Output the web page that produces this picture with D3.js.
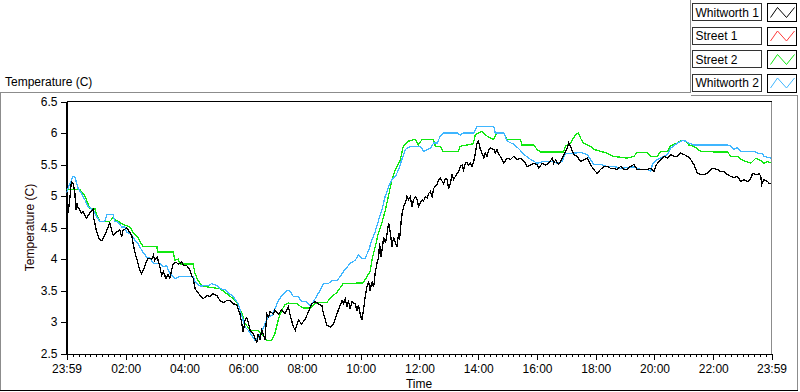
<!DOCTYPE html>
<html>
<head>
<meta charset="utf-8">
<script src="https://cdn.jsdelivr.net/npm/d3@7"></script>
<style>
  html,body{margin:0;padding:0;background:#fff;}
  svg{display:block;font-family:"Liberation Sans",Arial,sans-serif;}
</style>
</head>
<body>
<svg id="chart" width="800" height="392"></svg>
<script>
/* ===== Temperature log — 24 h, four sensors =====
 * time = hours after 00:00 (23:59 of the day before = -1/60)
 */

const T_START = -1/60;          // 23:59
const T_END   = 23 + 59/60;     // 23:59
const TICK_HOURS  = [2,4,6,8,10,12,14,16,18,20,22];
const TICK_LABELS = ["02:00","04:00","06:00","08:00","10:00","12:00","14:00","16:00","18:00","20:00","22:00"];
const Y_TICKS = [2.5,3,3.5,4,4.5,5,5.5,6,6.5];

const SERIES_NAMES  = ["Whitworth 1","Street 1","Street 2","Whitworth 2"];
const SERIES_COLORS = ["#000000","#ff3a3a","#10e810","#3fb6ff"];

// [hour, °C]
const whitworth1 = [
  [-0.017,4.78],[0.01,4.9],[0.04,4.73],[0.1,4.97],[0.15,5.23],[0.21,5.2],[0.27,5.04],[0.3,4.78],[0.34,4.88],[0.38,4.81],
  [0.44,4.78],[0.49,4.73],[0.55,4.75],[0.61,4.7],[0.66,4.65],[0.78,4.73],[0.89,4.79],[0.91,4.65],[0.95,4.57],[1.01,4.43],
  [1.09,4.33],[1.18,4.29],[1.29,4.38],[1.4,4.51],[1.46,4.57],[1.52,4.46],[1.57,4.38],[1.69,4.43],[1.8,4.46],[1.86,4.35],
  [1.91,4.46],[2.03,4.49],[2.08,4.46],[2.2,4.38],[2.25,4.25],[2.31,4.11],[2.39,3.98],[2.48,3.82],[2.54,3.77],[2.62,3.85],
  [2.69,3.95],[2.76,4.01],[2.88,4.0],[2.94,4.06],[2.99,3.98],[3.07,4.03],[3.16,3.88],[3.22,3.74],[3.28,3.8],[3.37,3.69],
  [3.44,3.75],[3.5,3.69],[3.56,3.82],[3.62,3.93],[3.71,3.95],[3.79,3.92],[3.9,3.95],[3.98,3.9],[4.07,3.9],[4.19,3.82],
  [4.24,3.74],[4.3,3.69],[4.36,3.53],[4.53,3.42],[4.64,3.37],[4.76,3.42],[4.87,3.4],[4.98,3.45],[5.1,3.42],[5.21,3.34],
  [5.32,3.31],[5.44,3.34],[5.55,3.34],[5.66,3.29],[5.78,3.27],[5.89,3.13],[5.95,2.97],[6.0,2.84],[6.06,3.03],[6.12,3.07],
  [6.17,3.0],[6.23,2.87],[6.35,2.81],[6.4,2.73],[6.46,2.68],[6.51,2.81],[6.57,2.71],[6.63,2.87],[6.69,2.8],[6.74,2.71],
  [6.8,3.13],[6.86,3.08],[6.91,3.16],[7.03,3.13],[7.08,3.19],[7.2,3.13],[7.31,3.19],[7.42,3.13],[7.54,3.24],[7.6,3.1],
  [7.71,2.92],[7.77,2.87],[7.82,2.95],[7.88,3.03],[7.99,2.97],[8.11,3.05],[8.22,3.16],[8.33,3.29],[8.45,3.32],[8.56,3.29],
  [8.68,3.26],[8.73,3.13],[8.85,2.95],[8.96,2.92],[9.07,2.97],[9.19,3.13],[9.28,3.24],[9.36,3.34],[9.41,3.29],[9.47,3.37],
  [9.53,3.24],[9.58,3.34],[9.64,3.21],[9.7,3.32],[9.81,3.29],[9.87,3.18],[9.92,3.27],[9.98,3.13],[10.04,3.03],[10.1,3.21],
  [10.15,3.4],[10.21,3.56],[10.27,3.64],[10.32,3.5],[10.38,3.64],[10.44,3.55],[10.49,3.77],[10.55,3.93],[10.61,4.03],[10.64,4.25],
  [10.69,4.03],[10.74,4.19],[10.78,4.35],[10.84,4.25],[10.9,4.41],[10.95,4.57],[11.01,4.41],[11.06,4.19],[11.12,4.35],[11.18,4.25],
  [11.23,4.19],[11.29,4.41],[11.32,4.3],[11.37,4.57],[11.41,4.73],[11.46,4.83],[11.52,4.89],[11.57,4.99],[11.63,4.94],[11.69,4.99],
  [11.74,4.83],[11.8,4.94],[11.86,4.99],[11.92,4.94],[11.97,4.83],[12.03,4.89],[12.09,4.94],[12.14,4.92],[12.2,4.99],[12.26,4.97],
  [12.31,5.04],[12.37,5.07],[12.43,4.99],[12.48,5.12],[12.6,5.18],[12.65,5.26],[12.71,5.28],[12.82,5.2],[12.88,5.28],[12.94,5.26],
  [12.99,5.12],[13.05,5.2],[13.11,5.34],[13.16,5.26],[13.22,5.31],[13.28,5.36],[13.33,5.39],[13.39,5.47],[13.45,5.49],[13.5,5.42],
  [13.56,5.52],[13.62,5.53],[13.67,5.49],[13.73,5.52],[13.79,5.47],[13.84,5.53],[13.9,5.68],[13.96,5.84],[14.01,5.87],[14.07,5.74],
  [14.13,5.68],[14.19,5.6],[14.24,5.68],[14.3,5.63],[14.36,5.74],[14.42,5.76],[14.53,5.74],[14.58,5.68],[14.64,5.74],[14.7,5.66],
  [14.75,5.63],[14.81,5.58],[14.87,5.52],[14.98,5.6],[15.1,5.58],[15.21,5.63],[15.32,5.58],[15.44,5.6],[15.55,5.56],[15.66,5.47],
  [15.78,5.49],[15.89,5.52],[16.0,5.5],[16.06,5.44],[16.18,5.52],[16.29,5.49],[16.4,5.52],[16.52,5.6],[16.57,5.52],[16.63,5.57],
  [16.74,5.5],[16.86,5.6],[16.97,5.71],[17.03,5.76],[17.08,5.84],[17.14,5.79],[17.2,5.71],[17.25,5.66],[17.37,5.63],[17.48,5.55],
  [17.59,5.57],[17.71,5.6],[17.82,5.5],[17.93,5.42],[18.05,5.36],[18.16,5.42],[18.28,5.47],[18.39,5.47],[18.5,5.44],[18.62,5.44],
  [18.73,5.42],[18.85,5.47],[18.96,5.42],[19.07,5.42],[19.18,5.47],[19.3,5.5],[19.41,5.42],[19.53,5.42],[19.76,5.42],[19.87,5.44],
  [19.98,5.39],[20.04,5.47],[20.1,5.52],[20.21,5.58],[20.32,5.63],[20.44,5.6],[20.55,5.66],[20.66,5.63],[20.78,5.63],[20.89,5.68],
  [21.0,5.66],[21.12,5.63],[21.23,5.58],[21.34,5.5],[21.46,5.36],[21.57,5.34],[21.68,5.34],[21.8,5.36],[21.91,5.42],[22.02,5.44],
  [22.14,5.42],[22.25,5.39],[22.36,5.39],[22.48,5.34],[22.6,5.31],[22.71,5.29],[22.82,5.31],[22.94,5.23],[23.05,5.26],[23.17,5.23],
  [23.28,5.28],[23.34,5.36],[23.45,5.34],[23.51,5.34],[23.56,5.36],[23.62,5.31],[23.65,5.18],[23.73,5.26],[23.85,5.23],[23.9,5.2],
  [23.983,5.2]
];

const street1 = [];   // no samples shown in the plot

const street2 = [
  [-0.017,5.1],[0.44,5.1],[0.61,5.0],[0.78,4.8],[0.95,4.8],[1.01,4.7],[1.12,4.6],[1.46,4.6],[1.56,4.65],[1.73,4.6],
  [1.9,4.55],[2.14,4.51],[2.24,4.43],[2.41,4.35],[2.58,4.2],[3.06,4.2],[3.08,4.11],[3.61,4.11],[3.68,3.98],[3.78,4.0],
  [3.85,3.92],[4.29,3.92],[4.36,3.77],[4.46,3.66],[4.6,3.57],[4.87,3.55],[5.21,3.53],[5.55,3.41],[5.78,3.32],[5.95,3.14],
  [6.06,2.98],[6.23,2.87],[6.5,2.87],[6.67,2.79],[6.8,2.71],[6.97,2.71],[7.08,2.82],[7.19,3.03],[7.31,3.19],[7.42,3.27],
  [7.53,3.3],[7.82,3.29],[8.04,3.22],[8.28,3.22],[8.45,3.29],[8.62,3.31],[8.85,3.31],[8.96,3.38],[9.19,3.47],[9.4,3.61],
  [10.08,3.62],[10.21,3.72],[10.32,3.8],[10.38,3.98],[10.49,4.19],[10.6,4.41],[10.72,4.57],[10.84,4.78],[10.94,4.99],[11.06,5.26],
  [11.18,5.42],[11.35,5.58],[11.45,5.79],[11.62,5.87],[11.86,5.9],[11.96,5.81],[12.09,5.9],[12.47,5.9],[12.54,5.79],[12.71,5.79],
  [12.8,5.71],[13.32,5.71],[13.39,5.79],[13.62,5.81],[13.83,5.83],[13.9,5.97],[14.0,6.0],[14.13,6.03],[14.24,5.97],[14.41,5.92],
  [14.52,5.9],[14.64,6.0],[14.86,6.0],[14.98,5.9],[15.43,5.9],[15.49,5.81],[15.89,5.81],[16.0,5.74],[16.12,5.7],[16.9,5.7],
  [16.97,5.79],[17.14,5.84],[17.31,5.97],[17.41,6.0],[17.48,5.92],[17.58,5.84],[17.82,5.79],[17.93,5.74],[18.16,5.71],[18.39,5.68],
  [18.6,5.63],[19.07,5.6],[19.3,5.63],[19.41,5.69],[19.75,5.69],[19.86,5.63],[20.1,5.63],[20.21,5.71],[20.44,5.71],[20.55,5.8],
  [20.78,5.84],[20.89,5.88],[21.06,5.88],[21.17,5.81],[21.34,5.79],[21.57,5.71],[22.03,5.7],[22.48,5.7],[22.6,5.63],[22.82,5.63],
  [22.94,5.58],[23.28,5.52],[23.45,5.6],[23.56,5.58],[23.73,5.52],[23.85,5.55],[23.983,5.52]
];

const whitworth2 = [
  [-0.017,5.05],[0.1,5.2],[0.21,5.31],[0.27,5.3],[0.38,5.12],[0.49,5.04],[0.61,4.94],[0.72,4.83],[0.89,4.78],[1.01,4.67],
  [1.12,4.59],[1.29,4.6],[1.35,4.7],[1.46,4.71],[1.57,4.7],[1.63,4.59],[1.73,4.59],[1.86,4.51],[1.97,4.51],[2.03,4.43],
  [2.2,4.38],[2.31,4.3],[2.42,4.25],[2.54,4.14],[2.71,4.03],[2.82,4.02],[2.94,3.93],[3.16,3.93],[3.28,3.88],[3.39,3.89],
  [3.5,3.77],[3.67,3.69],[3.84,3.72],[4.3,3.72],[4.36,3.64],[4.53,3.57],[4.81,3.58],[4.93,3.61],[5.1,3.58],[5.21,3.53],
  [5.38,3.51],[5.66,3.4],[5.83,3.29],[5.95,3.1],[6.06,2.92],[6.17,2.87],[6.29,2.79],[6.4,2.71],[6.51,2.76],[6.63,2.84],
  [6.74,2.97],[6.86,3.08],[6.97,3.1],[7.08,3.21],[7.19,3.34],[7.37,3.45],[7.48,3.5],[7.6,3.49],[7.71,3.4],[7.87,3.4],
  [8.0,3.32],[8.16,3.32],[8.28,3.26],[8.39,3.32],[8.51,3.42],[8.62,3.5],[8.73,3.61],[8.9,3.61],[9.02,3.66],[9.19,3.66],
  [9.3,3.72],[9.41,3.8],[9.64,3.93],[9.81,3.98],[9.92,4.06],[10.04,4.01],[10.15,4.01],[10.27,4.14],[10.38,4.3],[10.49,4.43],
  [10.61,4.62],[10.72,4.78],[10.83,4.99],[10.95,5.15],[11.06,5.26],[11.18,5.31],[11.29,5.42],[11.4,5.58],[11.52,5.74],[11.69,5.79],
  [12.03,5.79],[12.14,5.71],[12.37,5.76],[12.48,5.84],[12.6,5.84],[12.71,5.95],[12.82,6.0],[13.28,6.0],[13.39,5.97],[13.5,6.0],
  [13.84,6.0],[13.96,6.1],[14.53,6.1],[14.58,6.0],[14.87,6.0],[14.99,5.87],[15.21,5.82],[15.38,5.75],[15.56,5.66],[15.78,5.58],
  [16.01,5.52],[16.23,5.55],[16.57,5.55],[16.69,5.52],[16.86,5.55],[16.97,5.68],[17.25,5.68],[17.48,5.69],[17.71,5.66],[17.82,5.58],
  [17.93,5.5],[18.16,5.5],[18.39,5.47],[18.62,5.47],[18.85,5.44],[19.3,5.46],[19.53,5.42],[19.76,5.42],[19.87,5.39],[19.93,5.5],
  [20.1,5.58],[20.33,5.63],[20.44,5.66],[20.55,5.76],[20.78,5.84],[20.95,5.88],[21.06,5.87],[21.17,5.84],[21.34,5.81],[22.48,5.81],
  [22.6,5.79],[22.71,5.74],[22.82,5.77],[22.94,5.71],[23.39,5.71],[23.51,5.68],[23.68,5.68],[23.73,5.63],[23.983,5.6]
];

const SERIES_DATA = [whitworth1, street1, street2, whitworth2];

/* ---------- layout ---------- */
const P = { l:66.5, r:771.5, t:101.5, b:353.5 };
const FONT = 12;

const svg = d3.select("#chart");

/* ---------- outer panel frame ---------- */
const frame = svg.append("g").attr("fill","none").attr("shape-rendering","crispEdges");
frame.append("path").attr("stroke","#8c8c8c")
  .attr("d","M0.5,390 L0.5,92.5 L690.5,92.5 L690.5,0 M690.5,95.5 L797.5,95.5 L797.5,390");
frame.append("line").attr("x1",0).attr("x2",798).attr("y1",390.5).attr("y2",390.5).attr("stroke","#000");

svg.append("text").attr("x",5).attr("y",86).attr("font-size",FONT).attr("fill","#000")
  .text("Temperature (C)");

/* ---------- scales ---------- */
const x = d3.scaleLinear().domain([T_START, T_END]).range([P.l, P.r]);
const y = d3.scaleLinear().domain([2.5, 6.5]).range([P.b, P.t]);

/* plot background + border */
svg.append("rect").attr("x",P.l).attr("y",P.t).attr("width",P.r-P.l).attr("height",P.b-P.t).attr("fill","#fff");
svg.append("path").attr("fill","none").attr("stroke","#8c8c8c").attr("shape-rendering","crispEdges")
  .attr("d",`M${P.l},${P.t}L${P.r},${P.t}L${P.r},${P.b}`);
svg.append("line").attr("x1",P.l).attr("x2",P.r).attr("y1",P.t).attr("y2",P.t)
  .attr("stroke","#000").attr("shape-rendering","crispEdges");

/* ---------- y axis ---------- */
const yAxis = svg.append("g").attr("transform",`translate(${P.l},0)`)
  .call(d3.axisLeft(y).tickValues(Y_TICKS).tickSize(6).tickPadding(3).tickFormat(d3.format("")));
yAxis.select(".domain").attr("shape-rendering","crispEdges");
yAxis.selectAll(".tick line").attr("shape-rendering","crispEdges");
yAxis.selectAll("text").attr("font-size",FONT).attr("font-family","Liberation Sans, Arial, sans-serif").attr("fill","#000");

svg.append("text")
  .attr("transform",`translate(34,${(P.t+P.b)/2}) rotate(-90)`)
  .attr("text-anchor","middle").attr("font-size",FONT).attr("fill","#1a0000")
  .text("Temperature (C)");

/* ---------- x axis ---------- */
const minorTicks = d3.range(12/60, 24, 12/60).filter(h => Math.abs(h/2 - Math.round(h/2)) > 1e-6 && h < T_END - 0.1);
const xg = svg.append("g").attr("transform",`translate(0,${P.b})`);
xg.call(d3.axisBottom(x).tickValues(minorTicks).tickSize(3).tickFormat(""))
  .call(g => g.select(".domain").remove());
xg.selectAll(".tick line").attr("shape-rendering","crispEdges");

const majorVals   = [T_START, ...TICK_HOURS, T_END];
const majorLabels = ["23:59", ...TICK_LABELS, "23:59"];
const xMaj = svg.append("g").attr("transform",`translate(0,${P.b})`)
  .call(d3.axisBottom(x).tickValues(majorVals).tickSize(6).tickPadding(5)
    .tickFormat((d,i) => majorLabels[i]));
xMaj.select(".domain").attr("d",`M${P.l},0.5H${P.r}`).attr("shape-rendering","crispEdges");
xMaj.selectAll(".tick line").attr("shape-rendering","crispEdges");
xMaj.selectAll("text").attr("font-size",FONT).attr("font-family","Liberation Sans, Arial, sans-serif").attr("fill","#000");

svg.append("text").attr("x",(P.l+P.r)/2).attr("y",388).attr("text-anchor","middle")
  .attr("font-size",FONT).attr("fill","#000").text("Time");

/* left axis line in black on top */
svg.append("line").attr("x1",P.l).attr("x2",P.l).attr("y1",P.t).attr("y2",P.b)
  .attr("stroke","#000").attr("shape-rendering","crispEdges");

/* ---------- series ---------- */
svg.append("clipPath").attr("id","plotClip").append("rect")
  .attr("x",P.l).attr("y",P.t).attr("width",P.r-P.l).attr("height",P.b-P.t);

const line = d3.line().x(d => x(d[0])).y(d => y(d[1]));
const lines = svg.append("g").attr("clip-path","url(#plotClip)");
// order: street 2, whitworth 2, street 1, whitworth 1 (black on top)
[2,3,1,0].forEach(i => {
  const data = SERIES_DATA[i];
  if(!data.length) return;
  lines.append("path").attr("d", line(data))
    .attr("fill","none").attr("stroke",SERIES_COLORS[i]).attr("stroke-width",1.3)
    .attr("shape-rendering","crispEdges");
});

/* ---------- legend ---------- */
const LEG = { x:692.5, w:69, sx:767.5, sw:29, top:3.5, step:23.5, h:17, sh:18 };
const leg = svg.append("g");
SERIES_NAMES.forEach((name, i) => {
  const y0 = LEG.top + i*LEG.step;
  leg.append("rect").attr("x",LEG.x).attr("y",y0).attr("width",LEG.w).attr("height",LEG.h)
    .attr("fill","#fff").attr("stroke","#333").attr("shape-rendering","crispEdges");
  leg.append("text").attr("x",LEG.x+3).attr("y",y0+13).attr("font-size",FONT).attr("fill","#000").text(name);
  leg.append("rect").attr("x",LEG.sx).attr("y",y0).attr("width",LEG.sw).attr("height",LEG.sh)
    .attr("fill","#fff").attr("stroke","#000").attr("shape-rendering","crispEdges");
  const zx = [3,10,19,27].map(d => LEG.sx + d);
  const zy = [LEG.sh-4,4,LEG.sh-4,4].map(d => y0 + d);
  leg.append("polyline").attr("points", zx.map((d,j) => `${d},${zy[j]}`).join(" "))
    .attr("fill","none").attr("stroke",SERIES_COLORS[i]).attr("stroke-width",1);
});
</script>
</body>
</html>
